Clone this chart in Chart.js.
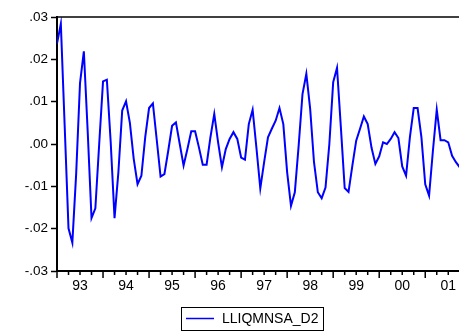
<!DOCTYPE html>
<html>
<head>
<meta charset="utf-8">
<script src="https://cdn.jsdelivr.net/npm/chart.js@4.4.0/dist/chart.umd.min.js"></script>
<style>
  html, body { margin: 0; padding: 0; background: #fff; }
  #wrap { width: 459px; height: 333px; }
</style>
</head>
<body>
<div id="wrap"><canvas id="c" width="459" height="333"></canvas></div>
<script>
// LLIQMNSA_D2, monthly, 1993M01 - 2001M10
const seriesName = 'LLIQMNSA_D2';
const yearLabels = ['93', '94', '95', '96', '97', '98', '99', '00', '01'];
const yTicks = [-0.03, -0.02, -0.01, 0.00, 0.01, 0.02, 0.03];
const values = [
  0.0237, 0.0284, 0.0043, -0.0199, -0.0233, -0.0070, 0.0144, 0.0219, 0.0030, -0.0175, -0.0152, 0.0000,   // 93
  0.0148, 0.0152, 0.0004, -0.0175, -0.0067, 0.0079, 0.0101, 0.0050, -0.0035, -0.0095, -0.0075, 0.0016,   // 94
  0.0085, 0.0096, 0.0010, -0.0077, -0.0071, -0.0016, 0.0043, 0.0051, 0.0000, -0.0051, -0.0012, 0.0030,  // 95
  0.0030, -0.0008, -0.0049, -0.0049, 0.0016, 0.0071, 0.0004, -0.0055, -0.0012, 0.0012, 0.0028, 0.0012,  // 96
  -0.0032, -0.0037, 0.0047, 0.0081, -0.0010, -0.0105, -0.0043, 0.0016, 0.0036, 0.0055, 0.0085, 0.0047,  // 97
  -0.0067, -0.0146, -0.0114, -0.0004, 0.0118, 0.0166, 0.0083, -0.0043, -0.0114, -0.0128, -0.0103, 0.0000, // 98
  0.0146, 0.0180, 0.0040, -0.0104, -0.0113, -0.0051, 0.0008, 0.0036, 0.0065, 0.0047, -0.0009, -0.0047,  // 99
  -0.0029, 0.0004, 0.0000, 0.0012, 0.0028, 0.0014, -0.0053, -0.0075, 0.0016, 0.0085, 0.0085, 0.0016,   // 00
  -0.0095, -0.0122, -0.0016, 0.0081, 0.0009, 0.0009, 0.0004, -0.0028, -0.0043, -0.0055                  // 01
];

const FONT = 'Arial, "Liberation Sans", sans-serif';

function fmtTick(v) {
  const s = Math.abs(v).toFixed(2).replace(/^0/, '');
  return (v < -1e-9 ? '-' : '') + s;
}

// EViews-style frame, quarterly ticks, year labels and boxed legend
const evFrame = {
  id: 'evFrame',
  afterDraw(chart) {
    const { ctx, chartArea: a, scales: { x } } = chart;
    ctx.save();
    ctx.strokeStyle = '#000';
    ctx.lineWidth = 1.5;
    ctx.beginPath();
    ctx.moveTo(a.left, a.top);
    ctx.lineTo(a.right, a.top);
    ctx.stroke();

    ctx.lineWidth = 2;
    ctx.beginPath();
    ctx.moveTo(a.left - 1, a.bottom);
    ctx.lineTo(a.right, a.bottom);
    ctx.stroke();

    ctx.lineWidth = 1.5;
    for (let q = 0; q <= values.length; q += 3) {
      const px = x.getPixelForValue(q);
      if (px > a.right + 1) break;
      const len = q % 12 === 0 ? 7 : 4;
      ctx.beginPath();
      ctx.moveTo(px, a.bottom);
      ctx.lineTo(px, a.bottom + len);
      ctx.stroke();
    }

    ctx.fillStyle = '#000';
    ctx.font = '14px ' + FONT;
    ctx.textAlign = 'center';
    ctx.textBaseline = 'top';
    yearLabels.forEach((lab, k) => {
      const px = x.getPixelForValue(k * 12 + 6);
      ctx.fillText(lab, px, a.bottom + 8);
    });

    // legend
    const bx = 181, by = 307, bw = 142, bh = 23;
    ctx.lineWidth = 1;
    ctx.strokeStyle = '#000';
    ctx.strokeRect(bx + 0.5, by + 0.5, bw, bh);
    ctx.strokeStyle = '#0000ff';
    ctx.lineWidth = 1.5;
    ctx.beginPath();
    ctx.moveTo(bx + 5, by + 11.5);
    ctx.lineTo(bx + 33, by + 11.5);
    ctx.stroke();
    ctx.font = '14px ' + FONT;
    ctx.textAlign = 'left';
    ctx.textBaseline = 'middle';
    ctx.fillText(seriesName, bx + 41, by + 12);
    ctx.restore();
  }
};

new Chart(document.getElementById('c'), {
  type: 'line',
  data: {
    datasets: [{
      label: seriesName,
      data: values.map((v, i) => ({ x: i, y: v })),
      borderColor: '#0000ff',
      borderWidth: 2,
      pointRadius: 0,
      tension: 0,
      fill: false
    }]
  },
  options: {
    responsive: false,
    devicePixelRatio: 1,
    animation: false,
    layout: { padding: { top: 17, right: 0, left: 0, bottom: 0 } },
    plugins: { legend: { display: false }, tooltip: { enabled: false } },
    scales: {
      x: {
        type: 'linear',
        min: 0,
        max: 104.8,
        ticks: { display: false },
        grid: { display: false },
        border: { display: false },
        afterFit: s => { s.height = 62; }
      },
      y: {
        min: -0.03,
        max: 0.03,
        afterBuildTicks: s => { s.ticks = yTicks.map(v => ({ value: v })); },
        ticks: {
          callback: v => fmtTick(v),
          color: '#000',
          font: { family: FONT, size: 13.5 },
          padding: 3
        },
        grid: { drawOnChartArea: false, tickLength: 6, tickColor: '#000', tickWidth: 1.5 },
        border: { color: '#000', width: 2 },
        afterFit: s => { s.width = 57; }
      }
    }
  },
  plugins: [evFrame]
});
</script>
</body>
</html>
